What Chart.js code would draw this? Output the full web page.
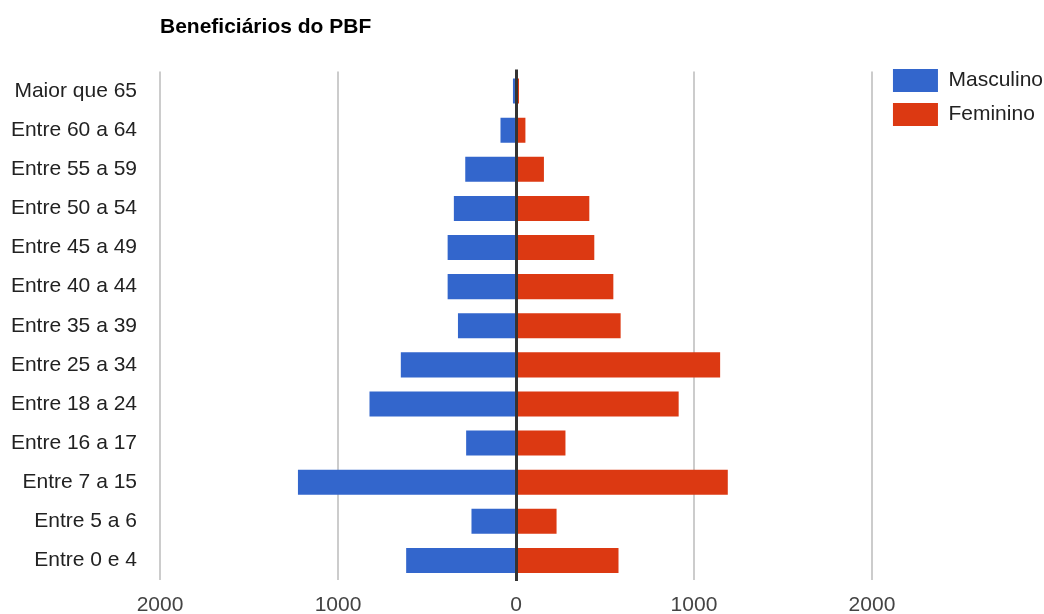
<!DOCTYPE html>
<html>
<head>
<meta charset="utf-8">
<script src="https://cdn.jsdelivr.net/npm/chart.js@4/dist/chart.umd.min.js"></script>
<style>
  html, body { margin: 0; padding: 0; background: #fff; }
  #wrap { width: 1044px; height: 614px; }
</style>
</head>
<body>
<div id="wrap"><canvas id="c" width="1044" height="614"></canvas></div>
<script>
// Age groups, top to bottom
const faixas = [
  'Maior que 65', 'Entre 60 a 64', 'Entre 55 a 59', 'Entre 50 a 54',
  'Entre 45 a 49', 'Entre 40 a 44', 'Entre 35 a 39', 'Entre 25 a 34',
  'Entre 18 a 24', 'Entre 16 a 17', 'Entre 7 a 15', 'Entre 5 a 6', 'Entre 0 e 4'
];
// Beneficiaries per group
const masculino = [17, 87, 285, 349, 384, 384, 326, 647, 823, 280, 1225, 250, 617];
const feminino  = [17, 53, 157, 412, 440, 547, 588, 1147, 914, 278, 1190, 228, 576];
const tituloGrafico = 'Beneficiários do PBF';
const rotulosSerie = ['Masculino', 'Feminino'];

const FONT = '"Liberation Sans", Arial, sans-serif';

// Dark vertical line at zero, drawn above the bars
const zeroLine = {
  id: 'zeroLine',
  afterDatasetsDraw(chart) {
    const x = Math.round(chart.scales.x.getPixelForValue(0)) + 0.5;
    const { top, bottom } = chart.chartArea;
    const ctx = chart.ctx;
    ctx.save();
    ctx.strokeStyle = '#333333';
    ctx.lineWidth = 3;
    ctx.beginPath();
    ctx.moveTo(x, top - 2);
    ctx.lineTo(x, bottom + 1);
    ctx.stroke();
    ctx.restore();
  }
};

new Chart(document.getElementById('c'), {
  type: 'bar',
  data: {
    labels: faixas,
    datasets: [
      {
        label: rotulosSerie[0],
        data: masculino.map(v => -v),
        backgroundColor: '#3366cc',
        borderWidth: 0
      },
      {
        label: rotulosSerie[1],
        data: feminino,
        backgroundColor: '#dc3912',
        borderWidth: 0
      }
    ]
  },
  options: {
    indexAxis: 'y',
    responsive: false,
    animation: false,
    layout: { padding: { left: 0, right: -9, top: 0, bottom: 0 } },
    datasets: {
      bar: { barPercentage: 0.64, categoryPercentage: 1 }
    },
    scales: {
      x: {
        stacked: true,
        min: -2000,
        max: 2000,
        border: { display: false },
        grid: {
          color: ctx => (ctx.tick && ctx.tick.value === 0) ? 'rgba(0,0,0,0)' : '#cccccc',
          lineWidth: 2,
          drawTicks: false
        },
        ticks: {
          stepSize: 1000,
          padding: 15,
          color: '#444444',
          font: { family: FONT, size: 21, lineHeight: 1 },
          callback: v => String(Math.abs(v))
        },
        afterFit(scale) { scale.height = 34; }
      },
      y: {
        stacked: true,
        border: { display: false },
        grid: { display: false, drawTicks: false },
        ticks: {
          padding: 23,
          color: '#222222',
          font: { family: FONT, size: 21 }
        },
        afterFit(scale) {
          scale.width = 160;
          scale.paddingTop = 0;
          scale.paddingBottom = 0;
        }
      },
      gutter: {
        type: 'linear',
        position: 'right',
        border: { display: false },
        grid: { display: false, drawTicks: false },
        ticks: { display: false },
        afterFit(scale) { scale.width = 10; }
      }
    },
    plugins: {
      title: {
        display: true,
        text: tituloGrafico,
        align: 'start',
        fullSize: false,
        color: '#000000',
        font: { family: FONT, size: 21, weight: 'bold', lineHeight: 1.2 },
        padding: { top: 14.5, bottom: 31.8 }
      },
      legend: {
        display: true,
        position: 'right',
        align: 'start',
        fullSize: true,
        title: {
          display: true,
          text: '',
          font: { size: 10, lineHeight: 1 },
          padding: { top: 48, bottom: 0 }
        },
        labels: {
          boxWidth: 45,
          boxHeight: 23,
          padding: 11,
          color: '#222222',
          font: { family: FONT, size: 21 }
        }
      },
      tooltip: { enabled: false }
    }
  },
  plugins: [zeroLine]
});
</script>
</body>
</html>
